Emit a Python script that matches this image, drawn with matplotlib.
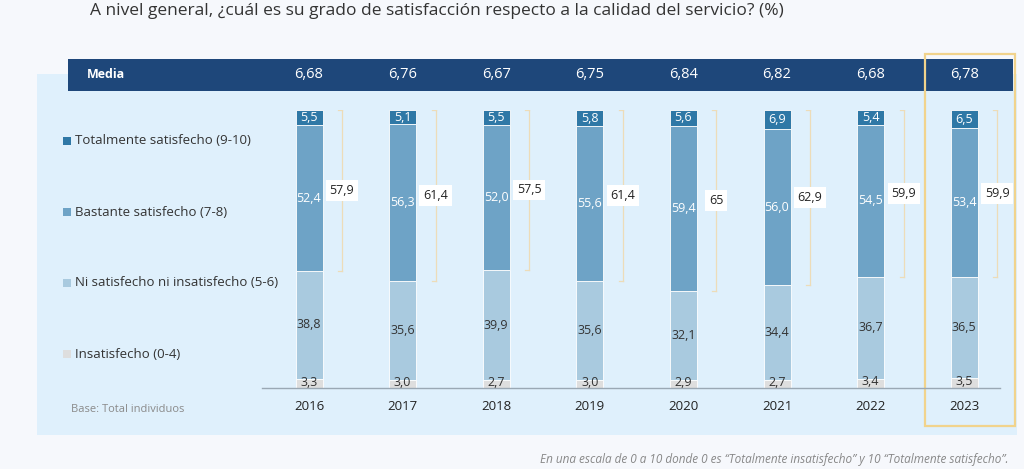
import numpy as np
import matplotlib.pyplot as plt
from matplotlib.patches import Rectangle

years = ["2016", "2017", "2018", "2019", "2020", "2021", "2022", "2023"]
media = ["6,68", "6,76", "6,67", "6,75", "6,84", "6,82", "6,68", "6,78"]
insatisfecho = [3.3, 3.0, 2.7, 3.0, 2.9, 2.7, 3.4, 3.5]
ni_ni = [38.8, 35.6, 39.9, 35.6, 32.1, 34.4, 36.7, 36.5]
bastante = [52.4, 56.3, 52.0, 55.6, 59.4, 56.0, 54.5, 53.4]
totalmente = [5.5, 5.1, 5.5, 5.8, 5.6, 6.9, 5.4, 6.5]
satisfechos = ["57,9", "61,4", "57,5", "61,4", "65", "62,9", "59,9", "59,9"]

series_names = ["Totalmente satisfecho (9-10)", "Bastante satisfecho (7-8)",
                "Ni satisfecho ni insatisfecho (5-6)", "Insatisfecho (0-4)"]
colors = ["#2f78a6", "#6ea3c6", "#a9cadf", "#dedede"]

plt.rcParams["font.family"] = ["Open Sans", "DejaVu Sans"]
W, H = 1024, 469
fig = plt.figure(figsize=(W / 100, H / 100), dpi=100)
fig.patch.set_facecolor("#f6f8fc")

# background decorations in pixel coords
bg = fig.add_axes([0, 0, 1, 1])
bg.set_xlim(0, W)
bg.set_ylim(H, 0)
bg.axis("off")
bg.add_patch(Rectangle((37, 74), 980, 361, facecolor="#dff0fc", edgecolor="none"))
bg.add_patch(Rectangle((68, 59), 945, 32, facecolor="#1e477a", edgecolor="none"))
bg.text(87, 75, "Media", color="white", fontsize=9, fontweight="bold", va="center")
bg.text(90, 11, "A nivel general, ¿cuál es su grado de satisfacción respecto a la calidad del servicio? (%)",
        fontsize=12.5, color="#333333", va="center")
bg.text(1008, 459, "En una escala de 0 a 10 donde 0 es \u201cTotalmente insatisfecho\u201d y 10 \u201cTotalmente satisfecho\u201d.",
        fontsize=8.5, color="#888888", style="italic", ha="right", va="center")
bg.text(71, 410, "Base: Total individuos", fontsize=8, color="#8a8a8a", va="center")

leg_y = [141, 212, 283, 354]
for name, c, y in zip(series_names, colors, leg_y):
    bg.add_patch(Rectangle((63, y - 4), 8, 8, facecolor=c, edgecolor="none"))
    bg.text(75, y, name, fontsize=9.5, color="#333333", va="center")

# bar axes
x0_px, x1_px = 262, 1000
y_bot, y_top = 388, 110
step = 93.6
c0 = 309
ax = fig.add_axes([x0_px / W, (H - y_bot) / H, (x1_px - x0_px) / W, (y_bot - y_top) / H])
ax.set_xlim((x0_px - c0) / step, (x1_px - c0) / step)
ax.set_ylim(0, 100)
ax.patch.set_alpha(0)
for s in ["top", "right", "left"]:
    ax.spines[s].set_visible(False)
ax.spines["bottom"].set_color("#9aa8b4")
ax.spines["bottom"].set_linewidth(1.0)
ax.set_yticks([])
ax.set_xticks([])

x = np.arange(len(years))
bw = 27 / step
ins = np.array(insatisfecho)
nin = np.array(ni_ni)
bas = np.array(bastante)
tot = np.array(totalmente)

ax.bar(x, ins, bw, color=colors[3], edgecolor="white", linewidth=0.6)
ax.bar(x, nin, bw, bottom=ins, color=colors[2], edgecolor="white", linewidth=0.6)
ax.bar(x, bas, bw, bottom=ins + nin, color=colors[1], edgecolor="white", linewidth=0.6)
ax.bar(x, tot, bw, bottom=ins + nin + bas, color=colors[0], edgecolor="white", linewidth=0.6)

def fmt(v):
    return f"{v:.1f}".replace(".", ",")

for i in range(len(years)):
    ax.text(x[i], ins[i] / 2 + 0.5, fmt(ins[i]), ha="center", va="center", fontsize=9, color="#333333")
    ax.text(x[i], ins[i] + nin[i] / 2, fmt(nin[i]), ha="center", va="center", fontsize=9, color="#333333")
    ax.text(x[i], ins[i] + nin[i] + bas[i] / 2, fmt(bas[i]), ha="center", va="center", fontsize=9, color="white")
    ax.text(x[i], 100 - tot[i] / 2, fmt(tot[i]), ha="center", va="center", fontsize=9, color="white")
    # bracket for satisfied total
    bx = x[i] + 33 / step
    lo = ins[i] + nin[i]
    ax.plot([bx, bx], [lo, 100], color="#eddcb8", lw=0.9)
    ax.plot([bx - 4 / step, bx], [100, 100], color="#eddcb8", lw=0.9)
    ax.plot([bx - 4 / step, bx], [lo, lo], color="#eddcb8", lw=0.9)
    ax.text(bx, (lo + 100) / 2, satisfechos[i], ha="center", va="center", fontsize=9, color="#222222",
            bbox=dict(boxstyle="square,pad=0.3", facecolor="white", edgecolor="none"))
    # header values and years
    px = c0 + step * i
    bg.text(px, 75, media[i], ha="center", va="center", fontsize=10.5, color="white")
    bg.text(px, 407, years[i], ha="center", va="center", fontsize=9.5, color="#222222")

# highlight of 2023
bg.add_patch(Rectangle((925, 54), 90, 372, facecolor="none", edgecolor="#f1d38c", linewidth=1.6))

fig.savefig("out.png", dpi=100, facecolor=fig.get_facecolor())
